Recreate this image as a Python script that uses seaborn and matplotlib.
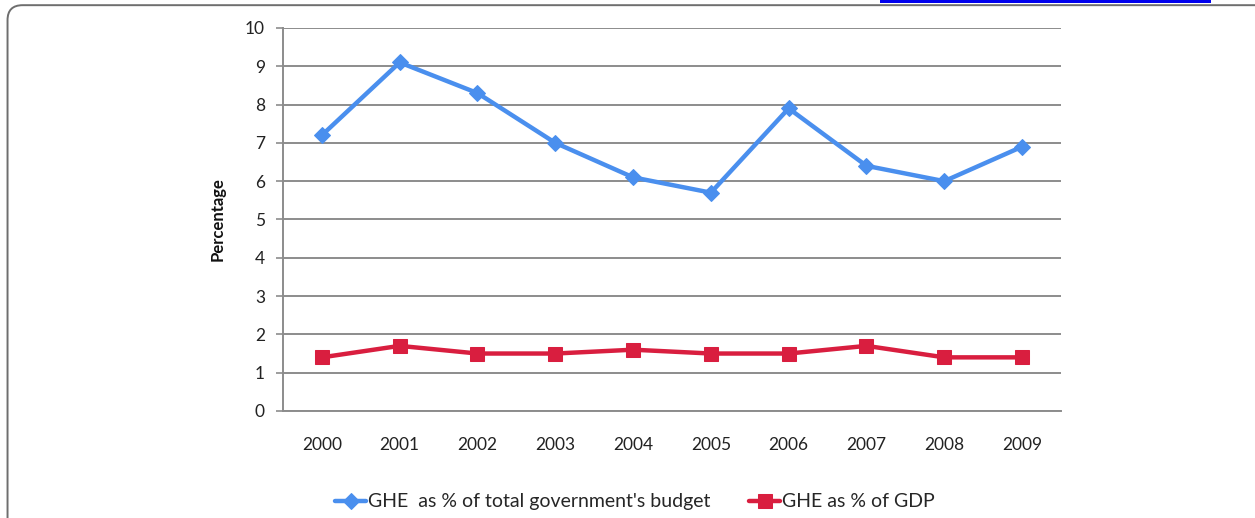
import matplotlib
matplotlib.use("Agg")
import matplotlib.pyplot as plt
from matplotlib.patches import FancyBboxPatch, Rectangle
import seaborn as sns
import pandas as pd

years = ["2000", "2001", "2002", "2003", "2004", "2005", "2006", "2007", "2008", "2009"]
budget_share = [7.2, 9.1, 8.3, 7.0, 6.1, 5.7, 7.9, 6.4, 6.0, 6.9]
gdp_share = [1.4, 1.7, 1.5, 1.5, 1.6, 1.5, 1.5, 1.7, 1.4, 1.4]
series_names = ["GHE  as % of total government's budget", "GHE as % of GDP"]
y_ticks = [0, 1, 2, 3, 4, 5, 6, 7, 8, 9, 10]

sns.set_theme(style="white")
plt.rcParams["font.family"] = ["Lato", "DejaVu Sans"]

BLUE = "#4A8FEE"
RED = "#D91E3F"
GRID = "#8C8C8C"

df = pd.DataFrame({
    "pos": list(range(len(years))) * 2,
    "value": budget_share + gdp_share,
    "series": [series_names[0]] * len(years) + [series_names[1]] * len(years),
})

fig = plt.figure(figsize=(12.55, 5.18), dpi=100)
ax = fig.add_axes([0.2255, 0.2066, 0.6199, 0.7394])

# outer frame with rounded corner
frame = FancyBboxPatch((0.006, -0.05), 1.2, 1.04, boxstyle="round,pad=0,rounding_size=0.012",
                       transform=fig.transFigure, fill=False, edgecolor="#6E6E6E", linewidth=1.4,
                       mutation_aspect=2.4)
fig.patches.append(frame)
fig.patches.append(Rectangle((0.701, 0.995), 0.264, 0.005, transform=fig.transFigure,
                             facecolor="#0000EE", edgecolor="none"))

for name, color, marker, ms in [(series_names[0], BLUE, "D", 8), (series_names[1], RED, "s", 10)]:
    sub = df[df["series"] == name]
    sns.lineplot(data=sub, x="pos", y="value", ax=ax, color=color, linewidth=3.2,
                 marker=marker, markersize=ms, markeredgecolor=color, label=name, legend=False)

ax.set_xlim(-0.5, len(years) - 0.5)
ax.set_ylim(0, 10)
ax.set_yticks(y_ticks)
ax.set_yticklabels([str(t) for t in y_ticks], fontsize=12.5, color="#222222")
ax.set_xticks(range(len(years)))
ax.set_xticklabels(years, fontsize=12.5, color="#222222")
ax.set_xticks([i - 0.5 for i in range(len(years) + 1)], minor=True)
ax.tick_params(axis="x", which="major", length=0, pad=19)
ax.tick_params(axis="x", which="minor", length=6, width=1.2, color=GRID, direction="out")
ax.tick_params(axis="y", which="major", length=5, width=1.2, color=GRID, direction="out", pad=8, left=True)

ax.grid(axis="y", color=GRID, linewidth=1.4)
ax.set_axisbelow(True)
for side in ["top", "right"]:
    ax.spines[side].set_visible(False)
for side in ["left", "bottom"]:
    ax.spines[side].set_color(GRID)
    ax.spines[side].set_linewidth(1.4)

ax.set_xlabel("")
ax.set_ylabel("Percentage", fontsize=12, fontweight="bold", color="#111111", labelpad=14)

handles, labels = ax.get_legend_handles_labels()
fig.legend(handles, labels, loc="center", bbox_to_anchor=(0.506, 0.031), ncol=2, frameon=False,
           fontsize=14, handlelength=1.6, handletextpad=0.1, columnspacing=2.0)

fig.savefig("out.png", dpi=100, facecolor="white")
